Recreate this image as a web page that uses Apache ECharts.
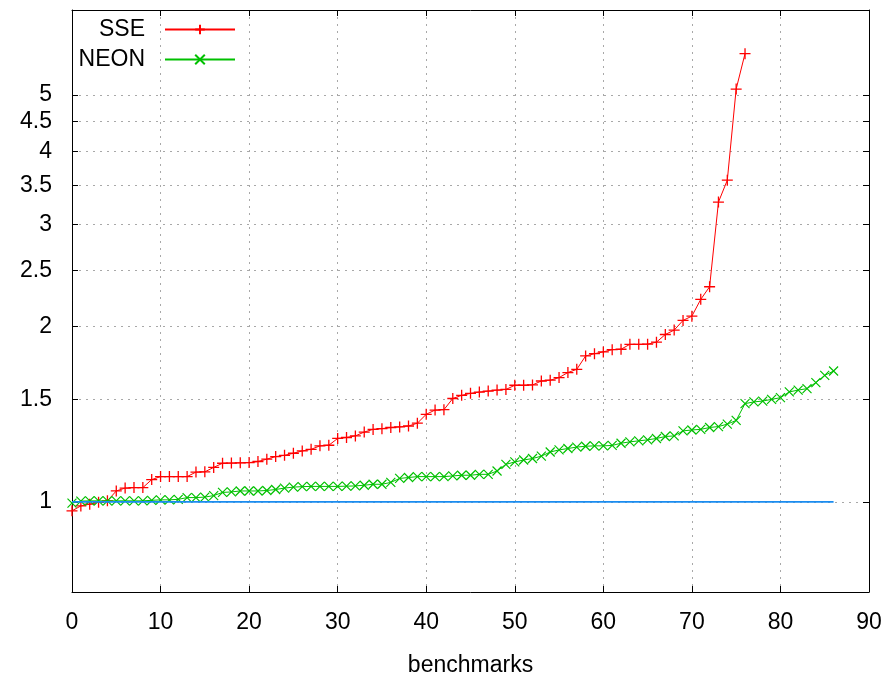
<!DOCTYPE html>
<html>
<head>
<meta charset="utf-8">
<script src="https://cdn.jsdelivr.net/npm/echarts@6/dist/echarts.min.js"></script>
<style>
html,body{margin:0;padding:0;background:#fff;}
#chart{width:885px;height:675px;}
</style>
</head>
<body>
<div id="chart"></div>
<script>
// benchmark index (x) and speedup (y, log scale)
const sseValues = [0.965,0.984,0.991,0.998,1.004,1.044,1.056,1.058,1.058,1.092,
  1.105,1.105,1.105,1.105,1.125,1.126,1.146,1.165,1.166,1.167,
  1.168,1.173,1.184,1.196,1.202,1.212,1.223,1.231,1.248,1.251,
  1.285,1.29,1.298,1.318,1.332,1.336,1.342,1.345,1.35,1.365,
  1.414,1.438,1.44,1.505,1.524,1.536,1.544,1.55,1.556,1.56,
  1.586,1.586,1.588,1.613,1.618,1.635,1.668,1.689,1.781,1.797,
  1.81,1.826,1.829,1.865,1.865,1.866,1.881,1.939,1.973,2.05,
  2.085,2.228,2.342,3.274,3.57,5.12,5.89];
const neonValues = [0.995,1.003,1.004,1.004,1.004,1.004,1.004,1.004,1.004,1.006,
  1.008,1.008,1.01,1.017,1.017,1.019,1.025,1.038,1.04,1.044,
  1.044,1.044,1.046,1.05,1.056,1.06,1.062,1.063,1.063,1.063,
  1.063,1.064,1.065,1.068,1.072,1.072,1.08,1.097,1.101,1.105,
  1.105,1.105,1.105,1.108,1.111,1.111,1.115,1.115,1.13,1.16,
  1.171,1.18,1.187,1.198,1.218,1.228,1.235,1.242,1.246,1.248,
  1.248,1.25,1.261,1.268,1.273,1.278,1.285,1.295,1.298,1.324,
  1.329,1.332,1.342,1.347,1.36,1.38,1.475,1.485,1.49,1.5,
  1.51,1.545,1.556,1.565,1.603,1.649,1.678];
const baselinePoints = [[0, 1], [86, 1]];
const yTickLabels = [1, 1.5, 2, 2.5, 3, 3.5, 4, 4.5, 5];
const xTickLabels = [0, 10, 20, 30, 40, 50, 60, 70, 80, 90];
const yRange = [0.7, 7];

const ln = Math.log;
const toPts = arr => arr.map((v, i) => [i, ln(v)]);
const yTicks = yTickLabels.map(ln);
const fontFamily = '"Liberation Sans", Arial, sans-serif';
const FS = 23;
const gridLine = () => ({ show: true, lineStyle: { color: '#a8a8a8', width: 1, type: [2, 5] } });
const frameLine = () => ({ show: true, onZero: false, lineStyle: { color: '#000', width: 1 } });
const tick = extra => Object.assign({ show: true, inside: true, length: 6, lineStyle: { color: '#000' } }, extra || {});

const plusPath = 'path://M0,5L10,5M5,0L5,10';
const crossPath = 'path://M0,0L10,10M10,0L0,10';

const chart = echarts.init(document.getElementById('chart'), null, { renderer: 'canvas' });
chart.setOption({
  animation: false,
  backgroundColor: '#fff',
  grid: { left: 72, right: 16, top: 10, bottom: 83, outerBoundsMode: 'none' },
  legend: [
    {
      data: ['SSE'], orient: 'vertical', align: 'right', right: 649, top: 18, padding: 0,
      itemWidth: 70, itemHeight: 12,
      textStyle: { fontFamily, fontSize: FS, color: '#000', padding: [0, 15, 0, 0] }
    },
    {
      data: ['NEON'], orient: 'vertical', align: 'right', right: 649, top: 48, padding: 0,
      itemWidth: 70, itemHeight: 12,
      textStyle: { fontFamily, fontSize: FS, color: '#000', padding: [0, 15, 0, 0] }
    }
  ],
  xAxis: [
    {
      type: 'value', min: 0, max: 90, interval: 10, position: 'bottom',
      name: 'benchmarks', nameLocation: 'middle', nameGap: 62,
      nameTextStyle: { fontFamily, fontSize: FS, color: '#000' },
      axisLine: frameLine(),
      axisTick: tick(),
      axisLabel: { margin: 19, fontFamily, fontSize: FS, color: '#000', formatter: v => xTickLabels.includes(v) ? String(v) : '' },
      splitLine: gridLine()
    },
    {
      type: 'value', min: 0, max: 90, interval: 10, position: 'top',
      axisLine: frameLine(),
      axisTick: tick(),
      axisLabel: { show: false },
      splitLine: { show: false }
    }
  ],
  yAxis: [
    {
      type: 'value', min: ln(yRange[0]), max: ln(yRange[1]), position: 'left',
      axisLine: frameLine(),
      axisTick: tick({ customValues: yTicks }),
      axisLabel: { margin: 20, fontFamily, fontSize: FS, color: '#000', customValues: yTicks,
        formatter: v => String(+Math.exp(v).toFixed(1)) },
      splitLine: gridLine()
    },
    {
      type: 'value', min: ln(yRange[0]), max: ln(yRange[1]), position: 'right',
      axisLine: frameLine(),
      axisTick: tick({ customValues: yTicks }),
      axisLabel: { show: false },
      splitLine: { show: false }
    }
  ],
  series: [
    {
      name: 'SSE', type: 'line', data: toPts(sseValues),
      symbol: plusPath, symbolSize: 11, showAllSymbol: true,
      lineStyle: { color: '#ff0000', width: 1 },
      itemStyle: { color: '#ff0000', borderColor: '#ff0000', borderWidth: 1.3 },
      emphasis: { disabled: true }, z: 3
    },
    {
      name: 'NEON', type: 'line', data: toPts(neonValues),
      symbol: crossPath, symbolSize: 9, showAllSymbol: true,
      lineStyle: { color: '#00c000', width: 1 },
      itemStyle: { color: '#00c000', borderColor: '#00c000', borderWidth: 1.2 },
      emphasis: { disabled: true }, z: 4
    },
    {
      name: 'baseline', type: 'line', data: baselinePoints.map(p => [p[0], ln(p[1])]),
      symbol: 'none', lineStyle: { color: '#1a8cf0', width: 1.8 },
      emphasis: { disabled: true }, z: 5
    }
  ]
});
</script>
</body>
</html>
